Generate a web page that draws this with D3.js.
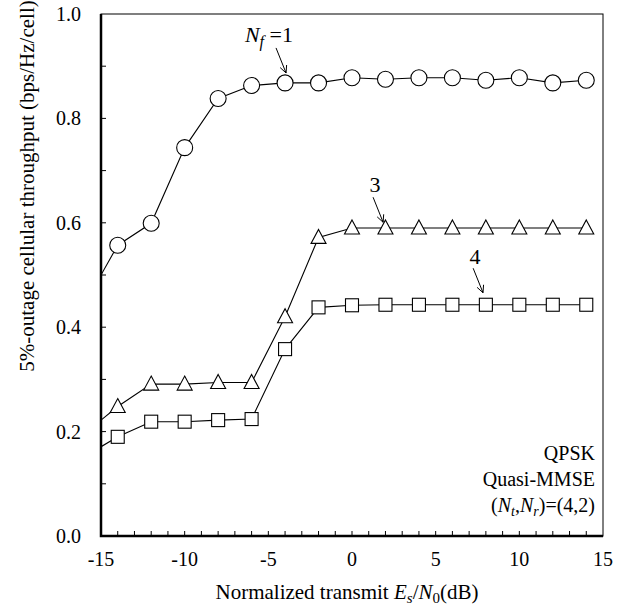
<!doctype html>
<html lang="en">
<head>
<meta charset="utf-8">
<title>5%-outage cellular throughput</title>
<script src="https://d3js.org/d3.v7.min.js"></script>
</head>
<body style="margin:0">
<svg id="main" width="629" height="608"></svg>
<script>
// transmit Es/N0 (dB); the -16 point lies left of the axis and is clipped
let snr = [-16, -14, -12, -10, -8, -6, -4, -2, 0, 2, 4, 6, 8, 10, 12, 14];
let nf1 = [0.443, 0.557, 0.599, 0.744, 0.838, 0.863, 0.868, 0.868, 0.878, 0.875, 0.878, 0.878, 0.873, 0.878, 0.868, 0.873];
let nf3 = [0.196, 0.248, 0.291, 0.291, 0.294, 0.294, 0.42, 0.572, 0.59, 0.59, 0.59, 0.59, 0.59, 0.59, 0.59, 0.59];
let nf4 = [0.152, 0.19, 0.219, 0.219, 0.222, 0.224, 0.358, 0.438, 0.442, 0.443, 0.443, 0.443, 0.443, 0.443, 0.443, 0.443];

let xTicks = [-15, -10, -5, 0, 5, 10, 15];
let yTicks = [0.0, 0.2, 0.4, 0.6, 0.8, 1.0];

let serif = 'Liberation Serif';
let svg = d3.select('#main');
let mLeft = 101, mRight = 603, mTop = 14, mBottom = 536;

let x = d3.scaleLinear().domain([-15, 15]).range([mLeft, mRight]);
let y = d3.scaleLinear().domain([0, 1]).range([mBottom, mTop]);

svg.append('defs').append('clipPath').attr('id', 'plotclip')
  .append('rect').attr('x', mLeft).attr('y', mTop).attr('width', mRight - mLeft).attr('height', mBottom - mTop);

// minor ticks (inward)
let g = svg.append('g');
g.selectAll('.xminor').data(d3.range(-14, 15, 1)).join('line')
  .attr('x1', d => x(d)).attr('x2', d => x(d)).attr('y1', mBottom).attr('y2', mBottom - 5)
  .attr('stroke', '#000').attr('stroke-width', 1);
g.selectAll('.yminor').data(d3.range(0.1, 1.0, 0.1)).join('line')
  .attr('x1', mLeft).attr('x2', mLeft + 5).attr('y1', d => y(d)).attr('y2', d => y(d))
  .attr('stroke', '#000').attr('stroke-width', 1);

// tick labels
svg.selectAll('.xlab').data(xTicks).join('text')
  .style('font-family', serif).attr('font-size', 20).attr('text-anchor', 'middle')
  .attr('x', d => x(d)).attr('y', mBottom + 30).text(d => String(d));
svg.selectAll('.ylab').data(yTicks).join('text')
  .style('font-family', serif).attr('font-size', 20).attr('text-anchor', 'end')
  .attr('x', mLeft - 20).attr('y', d => y(d) + 7).text(d => d.toFixed(1));

// frame
svg.append('rect').attr('x', mLeft).attr('y', mTop).attr('width', mRight - mLeft).attr('height', mBottom - mTop)
  .attr('fill', 'none').attr('stroke', '#000').attr('stroke-width', 1);
svg.append('path').attr('d', `M${mLeft},${mTop} V${mBottom} H${mRight}`)
  .attr('fill', 'none').attr('stroke', '#000').attr('stroke-width', 2.5);

// series
let line = d3.line().x((d, i) => x(snr[i])).y(d => y(d));
let plot = svg.append('g').attr('clip-path', 'url(#plotclip)');
[nf1, nf3, nf4].forEach(s => {
  plot.append('path').datum(s).attr('d', line).attr('fill', 'none').attr('stroke', '#000').attr('stroke-width', 1.1);
});

let pts = (s) => s.map((v, i) => ({ x: snr[i], y: v }));
plot.selectAll('.circ').data(pts(nf1)).join('circle')
  .attr('cx', d => x(d.x)).attr('cy', d => y(d.y)).attr('r', 8)
  .attr('fill', '#fff').attr('stroke', '#000').attr('stroke-width', 1.1);
plot.selectAll('.tri').data(pts(nf3)).join('path')
  .attr('d', d => { let cx = x(d.x), cy = y(d.y); return `M${cx},${cy - 8} L${cx + 7.5},${cy + 6} L${cx - 7.5},${cy + 6}Z`; })
  .attr('fill', '#fff').attr('stroke', '#000').attr('stroke-width', 1.1);
plot.selectAll('.sq').data(pts(nf4)).join('rect')
  .attr('x', d => x(d.x) - 6.5).attr('y', d => y(d.y) - 6.5).attr('width', 13).attr('height', 13)
  .attr('fill', '#fff').attr('stroke', '#000').attr('stroke-width', 1.1);

// annotations: text position, arrow tail, arrow tip (data units)
let annot = [
  { lbl: '1', tx: -6.4, ty: 0.946, ax: -4.54, ay: 0.935, bx: -3.94, by: 0.887 },
  { lbl: '3', tx: 1.38, ty: 0.659, ax: 1.26, ay: 0.649, bx: 1.86, by: 0.601 },
  { lbl: '4', tx: 7.35, ty: 0.521, ax: 7.24, ay: 0.513, bx: 7.83, by: 0.466 }
];
annot.forEach((a, i) => {
  let x1 = x(a.ax), y1 = y(a.ay), x2 = x(a.bx), y2 = y(a.by);
  let ang = Math.atan2(y2 - y1, x2 - x1), h = 8, w = 0.45;
  svg.append('path')
    .attr('d', `M${x1},${y1} L${x2},${y2} M${x2 - h * Math.cos(ang - w)},${y2 - h * Math.sin(ang - w)} L${x2},${y2} L${x2 - h * Math.cos(ang + w)},${y2 - h * Math.sin(ang + w)}`)
    .attr('fill', 'none').attr('stroke', '#000').attr('stroke-width', 1);
  let t = svg.append('text').style('font-family', serif).attr('x', x(a.tx)).attr('y', y(a.ty)).attr('font-size', 22);
  if (i === 0) {
    t.append('tspan').attr('font-style', 'italic').text('N');
    t.append('tspan').attr('font-style', 'italic').attr('font-size', 16).attr('dy', 5).text('f');
    t.append('tspan').attr('dy', -5).text(' =1');
  } else {
    t.attr('text-anchor', 'middle').text(a.lbl);
  }
});

// legend text
svg.append('text').style('font-family', serif).attr('text-anchor', 'end').attr('font-size', 20)
  .attr('x', 595).attr('y', 460).text('QPSK');
svg.append('text').style('font-family', serif).attr('text-anchor', 'end').attr('font-size', 20)
  .attr('x', 595).attr('y', 486).text('Quasi-MMSE');
let l3 = svg.append('text').style('font-family', serif).attr('text-anchor', 'end').attr('font-size', 20)
  .attr('x', 595).attr('y', 512);
l3.append('tspan').text('(');
l3.append('tspan').attr('font-style', 'italic').text('N');
l3.append('tspan').attr('font-style', 'italic').attr('font-size', 14).attr('dy', 4).text('t');
l3.append('tspan').attr('dy', -4).text(',');
l3.append('tspan').attr('font-style', 'italic').text('N');
l3.append('tspan').attr('font-style', 'italic').attr('font-size', 14).attr('dy', 4).text('r');
l3.append('tspan').attr('dy', -4).text(')=(4,2)');

// axis titles
let xt = svg.append('text').style('font-family', serif).attr('x', 347).attr('y', 599)
  .attr('text-anchor', 'middle').attr('font-size', 21);
xt.append('tspan').text('Normalized transmit ');
xt.append('tspan').attr('font-style', 'italic').text('E');
xt.append('tspan').attr('font-style', 'italic').attr('font-size', 15).attr('dy', 4).text('s');
xt.append('tspan').attr('dy', -4).text('/');
xt.append('tspan').attr('font-style', 'italic').text('N');
xt.append('tspan').attr('font-size', 15).attr('dy', 4).text('0');
xt.append('tspan').attr('dy', -4).text('(dB)');

svg.append('text').style('font-family', serif).attr('transform', 'translate(34,186) rotate(-90)')
  .attr('text-anchor', 'middle').attr('font-size', 21).text('5%-outage cellular throughput (bps/Hz/cell)');
</script>
</body>
</html>
